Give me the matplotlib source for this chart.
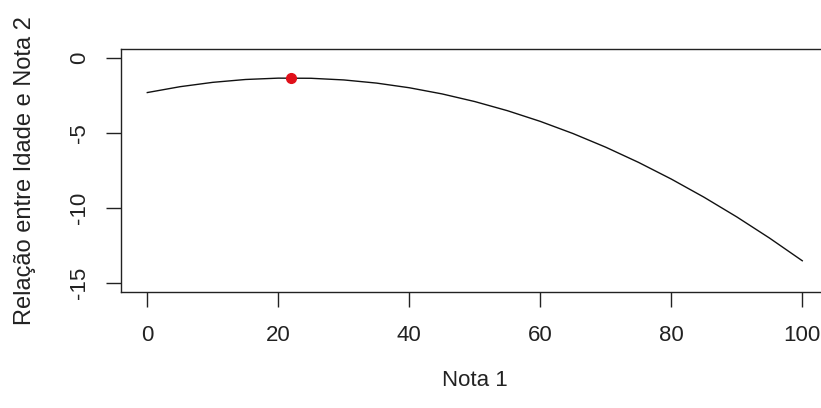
import matplotlib.pyplot as plt
import numpy as np

plt.rcParams['font.family'] = ['Liberation Sans', 'DejaVu Sans']

# curve values (Nota 1 vs relation)
nota1 = [0, 5, 10, 15, 20, 25, 30, 35, 40, 45, 50,
         55, 60, 65, 70, 75, 80, 85, 90, 95, 100]
relacao = [-2.30, -1.91, -1.62, -1.43, -1.34, -1.35, -1.46, -1.67, -1.98, -2.39, -2.90,
           -3.51, -4.22, -5.03, -5.94, -6.95, -8.06, -9.27, -10.58, -11.99, -13.50]

# highlighted maximum
ponto_x = [22.0]
ponto_y = [-1.33]

xticks = [0, 20, 40, 60, 80, 100]
yticks = [0, -5, -10, -15]

txt = '#222222'

fig = plt.figure(figsize=(8.21, 4.08), dpi=100)
ax = fig.add_axes([0.1475, 0.2836, 0.8616, 0.5963])

ax.plot(nota1, relacao, color='#111111', linewidth=1.0)
ax.plot(ponto_x, ponto_y, 'o', color='#e0101a', markersize=7, zorder=3)

ax.set_xlim(-4, 104)
ax.set_ylim(-15.6, 0.6)
ax.set_xticks(xticks)
ax.set_yticks(yticks)
ax.set_yticklabels([str(v) for v in yticks], rotation=90, va='center')

ax.tick_params(axis='both', direction='out', length=10.5, width=1.0,
               color='#222222', labelsize=16, labelcolor=txt)
ax.tick_params(axis='x', pad=13)
ax.tick_params(axis='y', pad=12)

for sp in ax.spines.values():
    sp.set_linewidth(1.0)
    sp.set_color('#222222')

ax.set_xlabel('Nota 1', fontsize=16, color=txt)
ax.xaxis.set_label_coords(0.4997, -0.3646)
ax.xaxis.label.set_va('center')
ax.set_ylabel('Relação entre Idade e Nota 2', fontsize=17, color=txt)
ax.yaxis.set_label_coords(-0.1358, 0.5)
ax.yaxis.label.set_va('center')

fig.savefig('out.png', dpi=100)
